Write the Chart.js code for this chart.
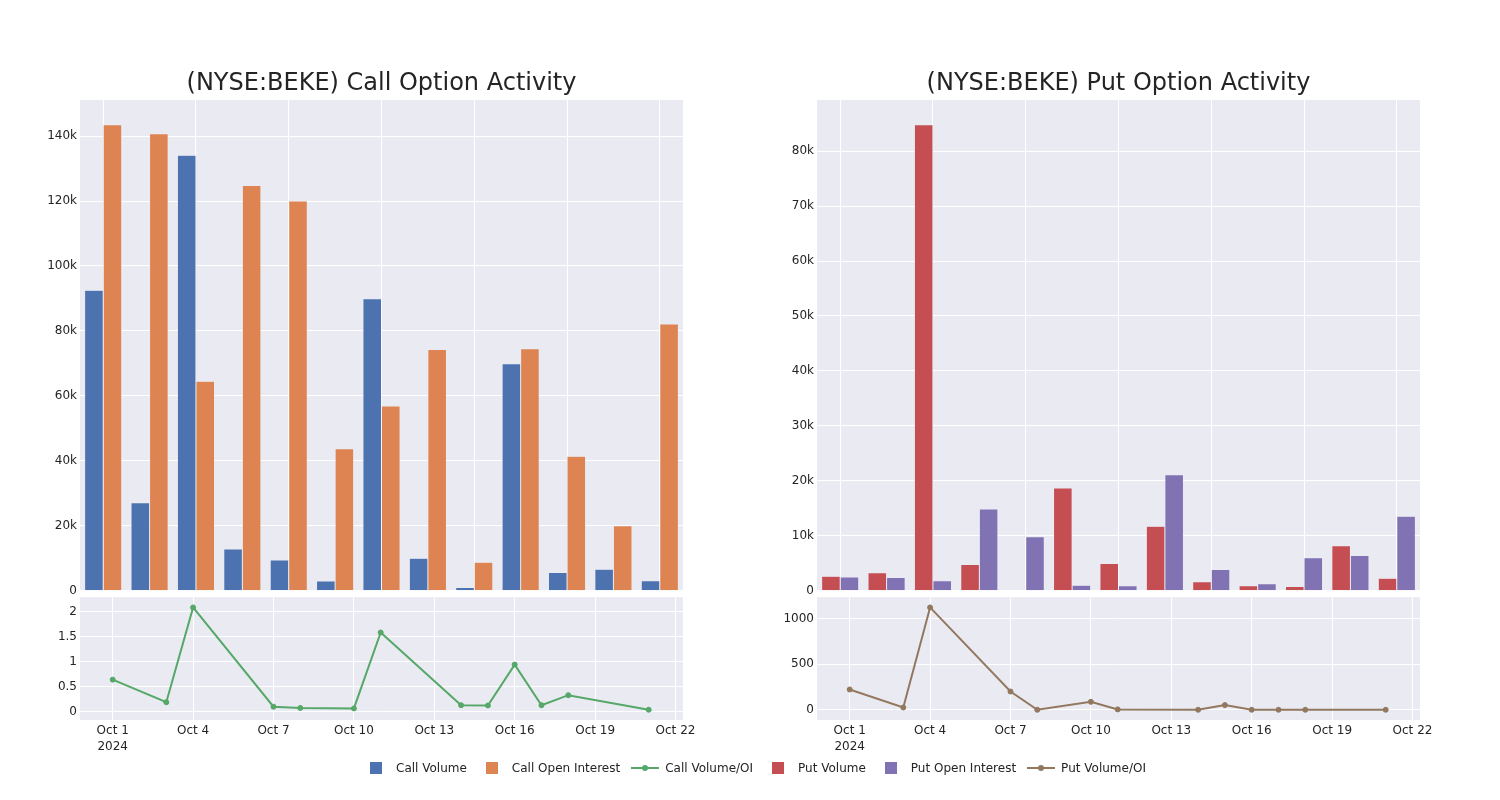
<!DOCTYPE html>
<html>
<head>
<meta charset="utf-8">
<title>BEKE Option Activity</title>
<script src="https://cdn.jsdelivr.net/npm/chart.js@4.4.1/dist/chart.umd.min.js"></script>
<style>
  body { margin: 0; width: 1500px; height: 800px; background: #fff; position: relative; overflow: hidden; font-family: 'DejaVu Sans', sans-serif; }
  canvas { position: absolute; }
  #legend { position: absolute; top: 760px; left: 361px; display: flex; align-items: center; font-size: 12px; color: rgb(36,36,36); white-space: nowrap; }
  .item { display: flex; align-items: center; margin-right: 10px; height: 16px; }
  .sym { width: 30px; height: 16px; position: relative; margin-right: 5px; }
  .sq { position: absolute; left: 9px; top: 2px; width: 12px; height: 12px; }
  .ln { position: absolute; left: 1px; top: 7px; width: 28px; height: 2px; }
  .dot { position: absolute; left: 12px; top: 5px; width: 6px; height: 6px; border-radius: 50%; }
</style>
</head>
<body>
<canvas id="callBars" width="683" height="541" style="left:20px;top:60px"></canvas>
<canvas id="putBars" width="683" height="541" style="left:757px;top:60px"></canvas>
<canvas id="callRatio" width="683" height="173" style="left:20px;top:587px"></canvas>
<canvas id="putRatio" width="683" height="173" style="left:757px;top:587px"></canvas>
<div id="legend"></div>

<script>
// trading days in October 2024
const days = [1, 3, 4, 7, 8, 10, 11, 14, 15, 16, 17, 18, 21];

const callVolume = [92500, 27100, 134100, 12900, 9500, 3000, 89900, 10000, 1000, 69900, 5600, 6600, 3100];
const callOpenInterest = [143500, 140700, 64500, 124800, 120000, 43700, 56900, 74300, 8800, 74500, 41400, 20000, 82100];
const callVolOI = [0.64, 0.19, 2.08, 0.10, 0.075, 0.066, 1.58, 0.13, 0.125, 0.94, 0.13, 0.33, 0.04];

const putVolume = [2670, 3270, 84800, 4790, 120, 18700, 4970, 11760, 1640, 910, 790, 8190, 2300];
const putOpenInterest = [2490, 2430, 1820, 14900, 9820, 1030, 910, 21100, 3880, 1270, 6000, 6430, 13580];
const putVolOI = [222, 25, 1120, 200, 0, 87, 4, 0, 51, 0, 0, 0, 0];

const dateTicks = [1, 4, 7, 10, 13, 16, 19, 22];
const callBarTicks = [0, 20000, 40000, 60000, 80000, 100000, 120000, 140000];
const putBarTicks = [0, 10000, 20000, 30000, 40000, 50000, 60000, 70000, 80000];
const callRatioTicks = [0, 0.5, 1, 1.5, 2];
const putRatioTicks = [0, 500, 1000];

const colors = {
  callVol: 'rgb(76,114,176)',
  callOI: 'rgb(221,132,82)',
  callRatio: 'rgb(85,168,104)',
  putVol: 'rgb(196,78,82)',
  putOI: 'rgb(129,114,179)',
  putRatio: 'rgb(147,120,96)'
};

Chart.defaults.font.family = "'DejaVu Sans', sans-serif";
Chart.defaults.font.size = 12;
Chart.defaults.color = 'rgb(36,36,36)';

// paint the grey plot area behind everything
const plotBg = {
  id: 'plotBg',
  beforeDraw(chart) {
    const { ctx, chartArea: a } = chart;
    ctx.save();
    ctx.fillStyle = 'rgb(234,234,242)';
    ctx.fillRect(a.left, a.top, a.width, a.height);
    ctx.restore();
  }
};

const kFmt = v => v === 0 ? '0' : (v / 1000) + 'k';

function fixedTicks(list) {
  return s => { s.ticks = list.map(v => ({ value: v })); };
}

function barChart(id, title, sets, yMax, yTicks) {
  return new Chart(document.getElementById(id), {
    type: 'bar',
    data: {
      labels: days.map(d => 'Oct ' + d),
      datasets: sets.map(s => ({
        label: s.label,
        data: s.data,
        backgroundColor: s.color,
        borderColor: 'rgb(234,234,242)',
        borderWidth: 0.5,
        categoryPercentage: 0.8,
        barPercentage: 1.0
      }))
    },
    options: {
      responsive: false,
      animation: false,
      layout: { padding: { top: 0, right: 20, bottom: 10, left: 0 } },
      plugins: {
        legend: { display: false },
        tooltip: { enabled: false },
        title: {
          display: true,
          text: title,
          fullSize: false,
          color: 'rgb(36,36,36)',
          font: { size: 24, weight: 'normal' },
          padding: { top: 9.6, bottom: 1.6 }
        }
      },
      scales: {
        x: {
          grid: {
            offset: false,
            drawTicks: false,
            color: c => c.index % 2 === 0 ? '#ffffff' : 'rgba(0,0,0,0)'
          },
          border: { display: false },
          ticks: { display: false },
          afterFit: s => { s.height = 0; }
        },
        y: {
          min: 0,
          max: yMax,
          grid: { drawTicks: false, color: '#ffffff' },
          border: { display: false },
          ticks: { padding: 3, callback: kFmt },
          afterBuildTicks: fixedTicks(yTicks),
          afterFit: s => { s.width = 60; }
        }
      }
    },
    plugins: [plotBg]
  });
}

function ratioChart(id, label, values, color, yMin, yMax, yTicks) {
  return new Chart(document.getElementById(id), {
    type: 'line',
    data: {
      datasets: [{
        label: label,
        data: days.map((d, i) => ({ x: d, y: values[i] })),
        borderColor: color,
        backgroundColor: color,
        borderWidth: 2,
        pointRadius: 2.5,
        pointBorderWidth: 1,
        tension: 0
      }]
    },
    options: {
      responsive: false,
      animation: false,
      layout: { padding: { top: 10, right: 20, bottom: 0, left: 0 } },
      plugins: { legend: { display: false }, tooltip: { enabled: false } },
      scales: {
        x: {
          type: 'linear',
          min: -0.22,
          max: 22.28,
          grid: { drawTicks: false, color: '#ffffff' },
          border: { display: false },
          ticks: {
            padding: 2,
            autoSkip: false,
            maxRotation: 0,
            font: { lineHeight: 1.4 },
            callback: v => v === 1 ? ['Oct 1', '2024'] : 'Oct ' + v
          },
          afterBuildTicks: fixedTicks(dateTicks),
          afterFit: s => { s.height = 40; }
        },
        y: {
          min: yMin,
          max: yMax,
          grid: { drawTicks: false, color: '#ffffff' },
          border: { display: false },
          ticks: { padding: 3, callback: v => String(v) },
          afterBuildTicks: fixedTicks(yTicks),
          afterFit: s => { s.width = 60; }
        }
      }
    },
    plugins: [plotBg]
  });
}

barChart('callBars', '(NYSE:BEKE) Call Option Activity', [
  { label: 'Call Volume', data: callVolume, color: colors.callVol },
  { label: 'Call Open Interest', data: callOpenInterest, color: colors.callOI }
], 151100, callBarTicks);

barChart('putBars', '(NYSE:BEKE) Put Option Activity', [
  { label: 'Put Volume', data: putVolume, color: colors.putVol },
  { label: 'Put Open Interest', data: putOpenInterest, color: colors.putOI }
], 89300, putBarTicks);

ratioChart('callRatio', 'Call Volume/OI', callVolOI, colors.callRatio, -0.165, 2.284, callRatioTicks);
ratioChart('putRatio', 'Put Volume/OI', putVolOI, colors.putRatio, -112, 1232, putRatioTicks);

// shared legend below the subplots
const legendItems = [
  { label: 'Call Volume', color: colors.callVol, kind: 'bar' },
  { label: 'Call Open Interest', color: colors.callOI, kind: 'bar' },
  { label: 'Call Volume/OI', color: colors.callRatio, kind: 'line' },
  { label: 'Put Volume', color: colors.putVol, kind: 'bar' },
  { label: 'Put Open Interest', color: colors.putOI, kind: 'bar' },
  { label: 'Put Volume/OI', color: colors.putRatio, kind: 'line' }
];
const legend = document.getElementById('legend');
legendItems.forEach(it => {
  const item = document.createElement('div');
  item.className = 'item';
  const sym = document.createElement('div');
  sym.className = 'sym';
  if (it.kind === 'bar') {
    sym.innerHTML = '<div class="sq" style="background:' + it.color + '"></div>';
  } else {
    sym.innerHTML = '<div class="ln" style="background:' + it.color + '"></div>' +
      '<div class="dot" style="background:' + it.color + '"></div>';
  }
  const txt = document.createElement('span');
  txt.textContent = it.label;
  item.appendChild(sym);
  item.appendChild(txt);
  legend.appendChild(item);
});
</script>
</body>
</html>
